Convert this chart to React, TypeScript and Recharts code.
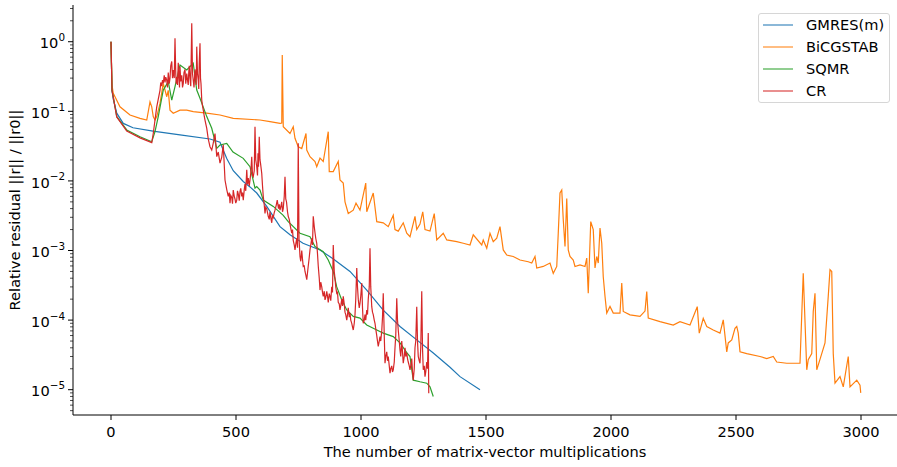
import { LineChart, Line, XAxis, YAxis, Legend } from 'recharts';

const FONT = '"DejaVu Sans", Verdana, sans-serif';
const W = 897;
const H = 467;
const PLOT_LEFT = 73;
const PLOT_BOTTOM = 415;
const FS = 14.6;

const xTicks = [0, 500, 1000, 1500, 2000, 2500, 3000];
const yMajorTicks = [1e-5, 1e-4, 1e-3, 1e-2, 1e-1, 1];
const yMinorMult = [2, 3, 4, 5, 6, 7, 8, 9];
const xDomain: [number, number] = [-152, 3144];
const yDomain: [number, number] = [4.33e-6, 3.37];

// [matvecs, relative residual]
const gmresData: [number, number][] = [
  [0, 1], [4, 0.2], [9, 0.15], [23, 0.094], [49, 0.067], [88, 0.058], [168, 0.052],
  [276, 0.046], [396, 0.04], [436, 0.036], [463, 0.021], [489, 0.014], [529, 0.0098],
  [556, 0.0082], [583, 0.0067], [623, 0.0043], [676, 0.0022], [716, 0.00168],
  [768, 0.00127], [836, 0.00102], [888, 0.00076], [956, 0.0005], [1023, 0.00027],
  [1088, 0.00014], [1156, 8.1e-5], [1223, 5.2e-5], [1288, 3.4e-5], [1356, 2.1e-5],
  [1396, 1.54e-5], [1476, 1.0e-5],
];

const bicgstabData: [number, number][] = [
  [0, 1], [4, 0.239], [9, 0.181], [16, 0.162], [36, 0.116], [76, 0.0885], [116, 0.0793],
  [143, 0.075], [156, 0.137], [163, 0.116], [169, 0.084], [176, 0.075], [183, 0.084],
  [196, 0.13], [209, 0.252], [223, 0.162], [229, 0.2], [236, 0.104], [249, 0.094],
  [276, 0.104], [303, 0.104], [329, 0.099], [383, 0.094], [436, 0.0885], [489, 0.0793],
  [596, 0.075], [636, 0.071], [676, 0.067], [683, 0.068], [685, 0.644], [689, 0.06],
  [716, 0.048], [729, 0.06], [736, 0.041], [749, 0.031], [763, 0.0292], [780, 0.048],
  [783, 0.0278], [796, 0.0223], [816, 0.019], [823, 0.016], [836, 0.0212], [849, 0.019],
  [869, 0.051], [873, 0.0136], [889, 0.0136], [909, 0.019], [916, 0.0103], [929, 0.0093],
  [936, 0.005], [949, 0.0034], [969, 0.0038], [980, 0.0048], [996, 0.0038], [1019, 0.0093],
  [1023, 0.0036], [1049, 0.0067], [1063, 0.0026], [1089, 0.0025], [1109, 0.0022],
  [1129, 0.0032], [1136, 0.002], [1149, 0.0019], [1169, 0.0025], [1183, 0.00177],
  [1196, 0.00158], [1216, 0.0031], [1223, 0.002], [1236, 0.0024], [1247, 0.0036],
  [1256, 0.002], [1276, 0.0019], [1293, 0.0034], [1303, 0.00142], [1329, 0.00177],
  [1343, 0.00142], [1383, 0.00134], [1409, 0.00127], [1436, 0.0012], [1449, 0.00168],
  [1483, 0.0012], [1489, 0.00142], [1503, 0.00108], [1516, 0.00177], [1529, 0.00134],
  [1543, 0.0015], [1556, 0.0022], [1569, 0.00102], [1583, 0.00086], [1609, 0.00082],
  [1636, 0.00073], [1669, 0.00069], [1683, 0.00066], [1696, 0.00082], [1703, 0.00056],
  [1729, 0.00059], [1756, 0.00066], [1769, 0.00047], [1783, 0.00059], [1789, 0.00177],
  [1796, 0.0067], [1803, 0.0074], [1809, 0.0028], [1816, 0.00114], [1823, 0.0056],
  [1829, 0.00102], [1836, 0.00082], [1849, 0.00073], [1856, 0.00059], [1876, 0.00062],
  [1896, 0.00059], [1903, 0.00078], [1909, 0.000243], [1919, 0.0026], [1929, 0.002],
  [1936, 0.00056], [1943, 0.00082], [1949, 0.00066], [1956, 0.0021], [1963, 0.00127],
  [1969, 0.00042], [1976, 0.00022], [1983, 0.000126], [1996, 0.000157], [2009, 0.000126],
  [2036, 0.000126], [2043, 0.00034], [2049, 0.000133], [2076, 0.000119], [2116, 0.000113],
  [2136, 0.000135], [2143, 0.000257], [2149, 0.000107], [2196, 9.5e-5], [2249, 8.5e-5],
  [2276, 9.5e-5], [2316, 8.5e-5], [2345, 0.000156], [2353, 6.5e-5], [2369, 0.000106],
  [2383, 8.1e-5], [2409, 7.2e-5], [2436, 6.5e-5], [2449, 0.000101], [2463, 3.5e-5],
  [2469, 4.7e-5], [2483, 5.2e-5], [2496, 7.6e-5], [2503, 8.1e-5], [2509, 6.5e-5],
  [2516, 3.5e-5], [2543, 3.3e-5], [2596, 3.0e-5], [2623, 2.8e-5], [2649, 3.0e-5],
  [2663, 2.5e-5], [2703, 2.4e-5], [2756, 2.4e-5], [2769, 0.00047], [2783, 1.93e-5],
  [2789, 2.7e-5], [2803, 3.3e-5], [2809, 0.000133], [2816, 0.000243], [2823, 1.93e-5],
  [2843, 3.3e-5], [2856, 4.7e-5], [2869, 0.00022], [2876, 0.00053], [2883, 0.0005],
  [2889, 3.3e-5], [2896, 1.24e-5], [2916, 1.54e-5], [2929, 1.1e-5], [2949, 3.0e-5],
  [2956, 1.1e-5], [2983, 1.37e-5], [2996, 1.16e-5], [2999, 9e-6],
];

const sqmrData: [number, number][] = [
  [0, 1], [4, 0.2], [9, 0.162], [23, 0.0837], [63, 0.054], [116, 0.0432], [163, 0.0366],
  [176, 0.051], [189, 0.084], [209, 0.202], [229, 0.266], [243, 0.145], [256, 0.226],
  [276, 0.463], [303, 0.392], [329, 0.49], [343, 0.202], [356, 0.154], [383, 0.084],
  [403, 0.057], [423, 0.0294], [436, 0.0328], [463, 0.0347], [488, 0.026], [529, 0.0211],
  [556, 0.016], [576, 0.0079], [583, 0.0083], [596, 0.0074], [609, 0.0053], [649, 0.0043],
  [689, 0.0032], [709, 0.0026], [756, 0.00177], [796, 0.00158], [816, 0.00114],
  [849, 0.00096], [869, 0.00073], [889, 0.0005], [903, 0.0003], [923, 0.000195],
  [943, 0.00014], [969, 0.000113], [996, 0.000107], [1023, 8.5e-5], [1063, 7.2e-5],
  [1089, 6.5e-5], [1129, 5.8e-5], [1156, 4.7e-5], [1183, 3.4e-5], [1196, 3.0e-5],
  [1209, 1.37e-5], [1236, 1.3e-5], [1263, 1.24e-5], [1276, 1.1e-5], [1289, 8.0e-6],
];

const crData: [number, number][] = [
  [0, 1], [4, 0.2], [9, 0.16], [23, 0.083], [63, 0.052], [116, 0.0415], [163, 0.0355],
  [169, 0.048], [176, 0.075], [183, 0.116], [196, 0.2], [199, 0.26], [203, 0.23],
  [206, 0.28], [209, 0.252], [213, 0.33], [216, 0.26], [219, 0.31], [223, 0.28],
  [226, 0.22], [229, 0.36], [233, 0.25], [236, 0.3], [239, 0.45], [243, 0.52], [246, 0.3],
  [249, 0.39], [253, 0.3], [256, 1.12], [259, 0.35], [261, 0.25], [263, 0.31], [266, 0.24],
  [269, 0.5], [272, 0.3], [274, 0.22], [276, 0.44], [279, 0.27], [283, 0.33], [286, 0.22],
  [289, 0.25], [292, 0.36], [296, 0.4], [299, 0.25], [303, 0.35], [306, 0.28], [309, 0.24],
  [311, 0.36], [313, 0.45], [316, 0.3], [319, 0.23], [323, 1.84], [326, 0.35], [329, 0.28],
  [332, 0.22], [336, 0.4], [339, 0.3], [341, 0.24], [343, 0.85], [346, 0.35], [349, 0.28],
  [351, 0.21], [353, 0.5], [356, 0.95], [358, 0.3], [360, 0.25], [363, 0.145], [366, 0.12],
  [370, 0.1], [373, 0.085], [376, 0.075], [383, 0.057], [389, 0.04], [396, 0.031],
  [403, 0.0278], [409, 0.035], [416, 0.048], [423, 0.0223], [429, 0.026], [436, 0.018],
  [443, 0.022], [449, 0.033], [456, 0.0103], [463, 0.0075], [469, 0.006], [473, 0.0068],
  [476, 0.0048], [479, 0.0062], [483, 0.0058], [486, 0.0047], [489, 0.0074], [493, 0.006],
  [496, 0.0055], [499, 0.0048], [503, 0.0053], [506, 0.0072], [509, 0.0065], [513, 0.0052],
  [516, 0.007], [519, 0.0078], [523, 0.006], [526, 0.0068], [529, 0.0053], [533, 0.0075],
  [536, 0.009], [539, 0.0072], [543, 0.0144], [546, 0.009], [549, 0.011], [553, 0.0085],
  [556, 0.0103], [559, 0.013], [563, 0.0223], [566, 0.012], [569, 0.0115], [573, 0.014],
  [576, 0.06], [579, 0.02], [583, 0.016], [586, 0.012], [588, 0.025], [590, 0.016],
  [593, 0.043], [596, 0.02], [598, 0.018], [603, 0.0128], [606, 0.0085], [609, 0.006],
  [613, 0.0045], [616, 0.0034], [619, 0.0042], [623, 0.004], [626, 0.0035], [629, 0.0031],
  [633, 0.0028], [636, 0.0036], [639, 0.003], [643, 0.0025], [646, 0.0032], [649, 0.003],
  [653, 0.0035], [656, 0.0038], [661, 0.0045], [665, 0.0053], [670, 0.004], [673, 0.0046],
  [676, 0.0038], [679, 0.0042], [683, 0.005], [686, 0.0036], [689, 0.004], [693, 0.006],
  [696, 0.0115], [699, 0.0055], [702, 0.005], [706, 0.0036], [709, 0.0031], [713, 0.0028],
  [716, 0.0024], [719, 0.0021], [723, 0.00177], [726, 0.002], [729, 0.0014], [733, 0.0012],
  [736, 0.00102], [740, 0.0013], [743, 0.0015], [746, 0.0011], [749, 0.0347],
  [752, 0.0015], [756, 0.00082], [759, 0.0007], [763, 0.001], [766, 0.00075],
  [769, 0.00059], [773, 0.0006], [776, 0.0005], [779, 0.00045], [783, 0.00038],
  [786, 0.00048], [789, 0.0006], [793, 0.0008], [796, 0.00102], [799, 0.0012],
  [803, 0.0015], [806, 0.0012], [809, 0.0031], [813, 0.0022], [816, 0.0018], [819, 0.0015],
  [823, 0.00127], [826, 0.0009], [829, 0.0006], [833, 0.0004], [836, 0.00027],
  [839, 0.00035], [843, 0.0003], [846, 0.00025], [849, 0.00022], [853, 0.00026],
  [856, 0.000195], [859, 0.00021], [863, 0.00026], [866, 0.00022], [869, 0.00018],
  [873, 0.00024], [876, 0.00022], [879, 0.00019], [883, 0.0003], [886, 0.00025],
  [889, 0.0012], [893, 0.0005], [896, 0.0004], [899, 0.0003], [903, 0.000243],
  [906, 0.00025], [909, 0.00018], [913, 0.00017], [916, 0.00014], [919, 0.00016],
  [923, 0.0002], [926, 0.00016], [929, 0.00022], [933, 0.00017], [936, 0.00013],
  [939, 0.00012], [943, 0.0001], [946, 0.00012], [949, 0.00015], [953, 0.00011],
  [956, 0.000126], [959, 0.0001], [963, 9e-5], [966, 8e-5], [969, 7.2e-5], [973, 9e-5],
  [976, 0.00012], [979, 0.0002], [983, 0.00056], [986, 0.0003], [989, 0.0002],
  [993, 0.00015], [996, 0.000175], [999, 0.00022], [1003, 0.00034], [1006, 0.00015],
  [1009, 9.0e-5], [1013, 0.0001], [1016, 0.00012], [1019, 0.0001], [1023, 0.00014],
  [1026, 0.00012], [1029, 0.0002], [1033, 0.0003], [1036, 0.00108], [1039, 0.0003],
  [1043, 0.000156], [1046, 0.00013], [1049, 0.00012], [1053, 0.0001], [1056, 9.0e-5],
  [1059, 7.5e-5], [1063, 6e-5], [1066, 5e-5], [1069, 4.2e-5], [1073, 5e-5], [1076, 5.8e-5],
  [1079, 5e-5], [1083, 7e-5], [1086, 0.00011], [1089, 0.000243], [1093, 6e-5],
  [1096, 2.4e-5], [1099, 3e-5], [1103, 3.5e-5], [1106, 2.6e-5], [1109, 3.0e-5],
  [1113, 2.2e-5], [1116, 1.73e-5], [1119, 2e-5], [1123, 2.2e-5], [1126, 1.8e-5],
  [1129, 1.93e-5], [1133, 2.5e-5], [1136, 4e-5], [1139, 6e-5], [1143, 0.000206],
  [1146, 0.0001], [1149, 7.2e-5], [1153, 5e-5], [1156, 3.7e-5], [1159, 3e-5],
  [1163, 5e-5], [1166, 3.5e-5], [1169, 2.4e-5], [1173, 3e-5], [1176, 4e-5], [1179, 3e-5],
  [1183, 3.4e-5], [1186, 2.8e-5], [1189, 2.5e-5], [1193, 2.2e-5], [1196, 1.93e-5],
  [1199, 2.2e-5], [1203, 2.8e-5], [1206, 1.8e-5], [1209, 1.37e-5], [1213, 2e-5],
  [1216, 4e-5], [1219, 5e-5], [1223, 0.000156], [1226, 5e-5], [1229, 3e-5], [1233, 2.6e-5],
  [1236, 2.4e-5], [1239, 4e-5], [1243, 0.00026], [1246, 4e-5], [1249, 1.93e-5],
  [1253, 2.2e-5], [1256, 1.54e-5], [1259, 1.8e-5], [1263, 2.5e-5], [1266, 2e-5],
  [1269, 6.5e-5], [1271, 8.9e-6],
];

const toPoints = (rows: [number, number][]) => rows.map(([x, y]) => ({ x, y }));

const series = [
  { name: 'GMRES(m)', color: '#1f77b4', data: toPoints(gmresData) },
  { name: 'BiCGSTAB', color: '#ff7f0e', data: toPoints(bicgstabData) },
  { name: 'SQMR', color: '#2ca02c', data: toPoints(sqmrData) },
  { name: 'CR', color: '#d62728', data: toPoints(crData) },
];

const yTicks = [
  ...yMajorTicks,
  ...[1e-6, 1e-5, 1e-4, 1e-3, 1e-2, 1e-1, 1].flatMap((d) => yMinorMult.map((m) => m * d)),
].filter((v) => v >= yDomain[0] && v <= yDomain[1]);

function XTick(props: any) {
  const { x, payload } = props;
  return (
    <g>
      <line x1={x} x2={x} y1={PLOT_BOTTOM} y2={PLOT_BOTTOM + 5} stroke="#000" strokeWidth={1} />
      <text x={x} y={PLOT_BOTTOM + 22} textAnchor="middle" fontSize={FS} fontFamily={FONT} fill="#000">
        {payload.value}
      </text>
    </g>
  );
}

function YTick(props: any) {
  const { y, payload } = props;
  const v: number = payload.value;
  const e = Math.round(Math.log10(v));
  const major = Math.abs(Math.log10(v) - e) < 1e-6;
  return (
    <g>
      <line x1={PLOT_LEFT - (major ? 5 : 3)} x2={PLOT_LEFT} y1={y} y2={y} stroke="#000" strokeWidth={major ? 1 : 0.7} />
      {major && (
        <text x={PLOT_LEFT - 8} y={y + 6.7} textAnchor="end" fontSize={FS} fontFamily={FONT} fill="#000">
          <tspan>10</tspan>
          <tspan dy={-7.2} fontSize={10.4}>{e === 0 ? '0' : '\u2212' + -e}</tspan>
        </text>
      )}
    </g>
  );
}

function LegendBox() {
  return (
    <div
      style={{
        width: 132,
        height: 90,
        boxSizing: 'border-box',
        border: '1px solid #d6d6d6',
        borderRadius: 3,
        background: 'rgba(255,255,255,0.8)',
        fontFamily: FONT,
        fontSize: FS,
        color: '#000',
      }}
    >
      {series.map((s) => (
        <div key={s.name} style={{ height: 22, display: 'flex', alignItems: 'center' }}>
          <svg width={42} height={22} style={{ display: 'block' }}>
            <line x1={4} x2={34} y1={11} y2={11} stroke={s.color} strokeWidth={1.3} strokeOpacity={0.8} />
          </svg>
          <span style={{ marginLeft: 5, lineHeight: '22px' }}>{s.name}</span>
        </div>
      ))}
    </div>
  );
}

export default function App() {
  return (
    <div style={{ position: 'absolute', left: 0, top: 0, width: W, height: H, background: '#fff', overflow: 'hidden' }}>
      <LineChart width={W} height={H} margin={{ top: 5, right: 0, left: 0, bottom: 0 }}>
        <XAxis
          xAxisId="top"
          orientation="top"
          type="number"
          dataKey="x"
          domain={xDomain}
          allowDataOverflow
          height={0}
          tick={false}
          tickLine={false}
          axisLine={{ stroke: '#000', strokeWidth: 1 }}
        />
        <XAxis
          type="number"
          dataKey="x"
          domain={xDomain}
          allowDataOverflow
          ticks={xTicks}
          interval={0}
          height={52}
          tickLine={false}
          axisLine={{ stroke: '#000', strokeWidth: 1 }}
          tick={<XTick />}
          label={{
            content: () => (
              <text x={485} y={457} textAnchor="middle" fontSize={FS} fontFamily={FONT} fill="#000">
                The number of matrix-vector multiplications
              </text>
            ),
          }}
        />
        <YAxis
          type="number"
          scale="log"
          dataKey="y"
          domain={yDomain}
          allowDataOverflow
          ticks={yTicks}
          interval={0}
          width={73}
          tickLine={false}
          axisLine={{ stroke: '#000', strokeWidth: 1 }}
          tick={<YTick />}
          label={{
            content: () => (
              <text
                x={20}
                y={210}
                transform="rotate(-90 20 210)"
                textAnchor="middle"
                fontSize={FS}
                fontFamily={FONT}
                fill="#000"
              >
                Relative residual ||r|| / ||r0||
              </text>
            ),
          }}
        />
        <Legend
          layout="horizontal"
          verticalAlign="middle"
          align="center"
          content={<LegendBox />}
          wrapperStyle={{ left: 758, top: 13, width: 132, height: 90 }}
        />
        {series.map((s) => (
          <Line
            key={s.name}
            name={s.name}
            data={s.data}
            dataKey="y"
            type="linear"
            stroke={s.color}
            strokeWidth={1.2}
            dot={false}
            activeDot={false}
            isAnimationActive={false}
          />
        ))}
      </LineChart>
    </div>
  );
}
